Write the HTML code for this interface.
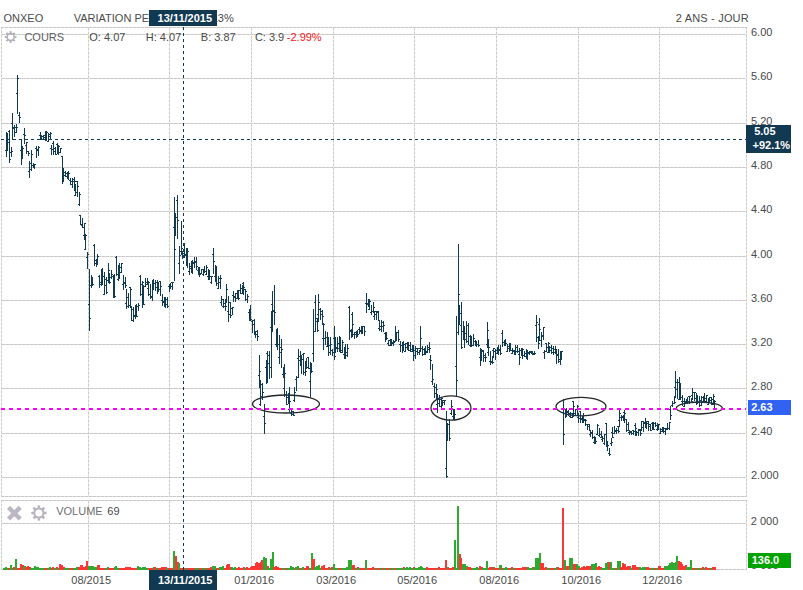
<!DOCTYPE html>
<html><head><meta charset="utf-8"><title>ONXEO</title>
<style>html,body{margin:0;padding:0;background:#fff;width:803px;height:590px;overflow:hidden}svg{display:block}</style>
</head><body>
<svg width="803" height="590" viewBox="0 0 803 590"><rect width="803" height="590" fill="#fff"/>
<g shape-rendering="crispEdges"><path d="M2 34.5H746" stroke="#f2d4ee" stroke-width="1"/><path d="M2 34.5H746" stroke="#c3cbc3" stroke-width="1" stroke-dasharray="3,1"/><path d="M2 78.5H746" stroke="#f2d4ee" stroke-width="1"/><path d="M2 78.5H746" stroke="#c3cbc3" stroke-width="1" stroke-dasharray="3,1"/><path d="M2 123.5H746" stroke="#f2d4ee" stroke-width="1"/><path d="M2 123.5H746" stroke="#c3cbc3" stroke-width="1" stroke-dasharray="3,1"/><path d="M2 167.5H746" stroke="#f2d4ee" stroke-width="1"/><path d="M2 167.5H746" stroke="#c3cbc3" stroke-width="1" stroke-dasharray="3,1"/><path d="M2 211.5H746" stroke="#f2d4ee" stroke-width="1"/><path d="M2 211.5H746" stroke="#c3cbc3" stroke-width="1" stroke-dasharray="3,1"/><path d="M2 256.5H746" stroke="#f2d4ee" stroke-width="1"/><path d="M2 256.5H746" stroke="#c3cbc3" stroke-width="1" stroke-dasharray="3,1"/><path d="M2 300.5H746" stroke="#f2d4ee" stroke-width="1"/><path d="M2 300.5H746" stroke="#c3cbc3" stroke-width="1" stroke-dasharray="3,1"/><path d="M2 344.5H746" stroke="#f2d4ee" stroke-width="1"/><path d="M2 344.5H746" stroke="#c3cbc3" stroke-width="1" stroke-dasharray="3,1"/><path d="M2 388.5H746" stroke="#f2d4ee" stroke-width="1"/><path d="M2 388.5H746" stroke="#c3cbc3" stroke-width="1" stroke-dasharray="3,1"/><path d="M2 433.5H746" stroke="#f2d4ee" stroke-width="1"/><path d="M2 433.5H746" stroke="#c3cbc3" stroke-width="1" stroke-dasharray="3,1"/><path d="M2 477.5H746" stroke="#f2d4ee" stroke-width="1"/><path d="M2 477.5H746" stroke="#c3cbc3" stroke-width="1" stroke-dasharray="3,1"/><path d="M88.5 28V496" stroke="#e9e6d4" stroke-width="1"/><path d="M88.5 28V496" stroke="#c4ccd0" stroke-width="1" stroke-dasharray="2,2"/><path d="M169.5 28V496" stroke="#e9e6d4" stroke-width="1"/><path d="M169.5 28V496" stroke="#c4ccd0" stroke-width="1" stroke-dasharray="2,2"/><path d="M251.5 28V496" stroke="#e9e6d4" stroke-width="1"/><path d="M251.5 28V496" stroke="#c4ccd0" stroke-width="1" stroke-dasharray="2,2"/><path d="M333.5 28V496" stroke="#e9e6d4" stroke-width="1"/><path d="M333.5 28V496" stroke="#c4ccd0" stroke-width="1" stroke-dasharray="2,2"/><path d="M414.5 28V496" stroke="#e9e6d4" stroke-width="1"/><path d="M414.5 28V496" stroke="#c4ccd0" stroke-width="1" stroke-dasharray="2,2"/><path d="M496.5 28V496" stroke="#e9e6d4" stroke-width="1"/><path d="M496.5 28V496" stroke="#c4ccd0" stroke-width="1" stroke-dasharray="2,2"/><path d="M578.5 28V496" stroke="#e9e6d4" stroke-width="1"/><path d="M578.5 28V496" stroke="#c4ccd0" stroke-width="1" stroke-dasharray="2,2"/><path d="M659.5 28V496" stroke="#e9e6d4" stroke-width="1"/><path d="M659.5 28V496" stroke="#c4ccd0" stroke-width="1" stroke-dasharray="2,2"/><path d="M1 27.5H747" stroke="#f2d4ee" stroke-width="1"/><path d="M1 27.5H747" stroke="#c3cbc3" stroke-width="1" stroke-dasharray="3,1"/><path d="M1 496.5H747" stroke="#f2d4ee" stroke-width="1"/><path d="M1 496.5H747" stroke="#c3cbc3" stroke-width="1" stroke-dasharray="3,1"/><path d="M1.5 27V497" stroke="#e9e6d4" stroke-width="1"/><path d="M1.5 27V497" stroke="#c4ccd0" stroke-width="1" stroke-dasharray="2,2"/><path d="M746.5 27V497" stroke="#e9e6d4" stroke-width="1"/><path d="M746.5 27V497" stroke="#c4ccd0" stroke-width="1" stroke-dasharray="2,2"/><path d="M1 500.5H747" stroke="#f2d4ee" stroke-width="1"/><path d="M1 500.5H747" stroke="#c3cbc3" stroke-width="1" stroke-dasharray="3,1"/><path d="M1 569.5H747" stroke="#f2d4ee" stroke-width="1"/><path d="M1 569.5H747" stroke="#c3cbc3" stroke-width="1" stroke-dasharray="3,1"/><path d="M2 523.5H746" stroke="#f2d4ee" stroke-width="1"/><path d="M2 523.5H746" stroke="#c3cbc3" stroke-width="1" stroke-dasharray="3,1"/><path d="M1.5 500V570" stroke="#e9e6d4" stroke-width="1"/><path d="M1.5 500V570" stroke="#c4ccd0" stroke-width="1" stroke-dasharray="2,2"/><path d="M746.5 500V570" stroke="#e9e6d4" stroke-width="1"/><path d="M746.5 500V570" stroke="#c4ccd0" stroke-width="1" stroke-dasharray="2,2"/><path d="M88.5 501V569" stroke="#e9e6d4" stroke-width="1"/><path d="M88.5 501V569" stroke="#c4ccd0" stroke-width="1" stroke-dasharray="2,2"/><path d="M169.5 501V569" stroke="#e9e6d4" stroke-width="1"/><path d="M169.5 501V569" stroke="#c4ccd0" stroke-width="1" stroke-dasharray="2,2"/><path d="M251.5 501V569" stroke="#e9e6d4" stroke-width="1"/><path d="M251.5 501V569" stroke="#c4ccd0" stroke-width="1" stroke-dasharray="2,2"/><path d="M333.5 501V569" stroke="#e9e6d4" stroke-width="1"/><path d="M333.5 501V569" stroke="#c4ccd0" stroke-width="1" stroke-dasharray="2,2"/><path d="M414.5 501V569" stroke="#e9e6d4" stroke-width="1"/><path d="M414.5 501V569" stroke="#c4ccd0" stroke-width="1" stroke-dasharray="2,2"/><path d="M496.5 501V569" stroke="#e9e6d4" stroke-width="1"/><path d="M496.5 501V569" stroke="#c4ccd0" stroke-width="1" stroke-dasharray="2,2"/><path d="M578.5 501V569" stroke="#e9e6d4" stroke-width="1"/><path d="M578.5 501V569" stroke="#c4ccd0" stroke-width="1" stroke-dasharray="2,2"/><path d="M659.5 501V569" stroke="#e9e6d4" stroke-width="1"/><path d="M659.5 501V569" stroke="#c4ccd0" stroke-width="1" stroke-dasharray="2,2"/></g>
<g fill="none" stroke="#262626" stroke-width="1.3"><ellipse cx="286" cy="404" rx="33.5" ry="9"/><ellipse cx="451" cy="408" rx="20" ry="12.2"/><ellipse cx="581" cy="406.6" rx="25" ry="9.3"/><ellipse cx="699.3" cy="408" rx="23" ry="6"/></g>
<path d="M1 139.5H746" stroke="#103a52" stroke-width="1" stroke-dasharray="3,3" shape-rendering="crispEdges"/>
<path d="M6.5 132V157M5 150.5h1M7 139.5h1M7.5 133V151M6 134.5h1M8 142.5h1M9.5 130V163M8 131.5h1M10 159.5h1M11.5 147V157M10 152.5h1M12 151.5h1M12.5 113V140M11 123.5h1M13 128.5h1M14.5 125V137M13 127.5h1M15 132.5h1M16.5 124V133M15 127.5h1M17 127.5h1M17.5 75V114M16 93.5h1M18 78.5h1M19.5 112V123M18 115.5h1M20 117.5h1M21.5 139V165M20 150.5h1M22 154.5h1M22.5 146V159M21 146.5h1M23 148.5h1M24.5 128V144M23 134.5h1M25 135.5h1M26.5 142V154M25 145.5h1M27 142.5h1M28.5 151V156M27 151.5h1M29 153.5h1M29.5 161V178M28 171.5h1M30 169.5h1M31.5 150V171M30 163.5h1M32 154.5h1M33.5 163V168M32 165.5h1M34 166.5h1M34.5 164V169M33 167.5h1M35 164.5h1M36.5 146V158M35 148.5h1M37 149.5h1M38.5 146V156M37 150.5h1M39 147.5h1M40.5 132V140M39 135.5h1M41 136.5h1M41.5 135V140M40 136.5h1M42 136.5h1M43.5 135V140M42 139.5h1M44 137.5h1M45.5 131V141M44 135.5h1M46 136.5h1M46.5 131V141M45 139.5h1M47 132.5h1M48.5 133V142M47 141.5h1M49 136.5h1M50.5 132V139M49 134.5h1M51 133.5h1M51.5 145V155M50 148.5h1M52 149.5h1M53.5 141V155M52 143.5h1M54 151.5h1M55.5 147V155M54 148.5h1M56 154.5h1M57.5 143V154M56 144.5h1M58 150.5h1M58.5 145V155M57 153.5h1M59 146.5h1M60.5 148V153M59 152.5h1M61 148.5h1M62.5 156V184M61 156.5h1M63 175.5h1M63.5 168V182M62 177.5h1M64 172.5h1M65.5 171V177M64 175.5h1M66 173.5h1M67.5 173V179M66 176.5h1M68 177.5h1M68.5 171V180M67 172.5h1M69 173.5h1M70.5 178V185M69 180.5h1M71 184.5h1M72.5 178V188M71 181.5h1M73 181.5h1M74.5 177V191M73 179.5h1M75 181.5h1M75.5 184V196M74 195.5h1M76 192.5h1M77.5 181V197M76 181.5h1M78 186.5h1M79.5 192V206M78 204.5h1M80 194.5h1M80.5 215V225M79 215.5h1M81 224.5h1M82.5 218V228M81 225.5h1M83 227.5h1M84.5 223V240M83 235.5h1M85 223.5h1M85.5 234V250M84 249.5h1M86 235.5h1M87.5 252V269M86 257.5h1M88 254.5h1M89.5 269V331M88 304.5h1M90 318.5h1M91.5 275V288M90 285.5h1M92 280.5h1M92.5 277V286M91 282.5h1M93 284.5h1M94.5 244V266M93 245.5h1M95 260.5h1M96.5 259V267M95 263.5h1M97 261.5h1M97.5 254V265M96 263.5h1M98 256.5h1M99.5 275V288M98 276.5h1M100 284.5h1M101.5 269V286M100 282.5h1M102 276.5h1M102.5 268V285M101 282.5h1M103 276.5h1M104.5 272V295M103 294.5h1M105 279.5h1M106.5 277V294M105 285.5h1M107 292.5h1M108.5 263V283M107 280.5h1M109 270.5h1M109.5 273V284M108 282.5h1M110 282.5h1M111.5 270V279M110 277.5h1M112 274.5h1M113.5 275V298M112 276.5h1M114 281.5h1M114.5 274V298M113 293.5h1M115 296.5h1M116.5 256V276M115 257.5h1M117 274.5h1M118.5 265V281M117 279.5h1M119 270.5h1M119.5 263V279M118 273.5h1M120 267.5h1M121.5 263V273M120 272.5h1M122 263.5h1M123.5 275V290M122 284.5h1M124 282.5h1M125.5 277V288M124 283.5h1M126 285.5h1M126.5 289V309M125 303.5h1M127 297.5h1M128.5 293V308M127 306.5h1M129 305.5h1M130.5 287V308M129 287.5h1M131 289.5h1M131.5 306V321M130 307.5h1M132 320.5h1M133.5 307V322M132 309.5h1M134 316.5h1M135.5 305V319M134 315.5h1M136 313.5h1M136.5 304V317M135 313.5h1M137 316.5h1M138.5 303V311M137 306.5h1M139 305.5h1M140.5 275V296M139 276.5h1M141 284.5h1M142.5 281V308M141 294.5h1M143 282.5h1M143.5 285V305M142 295.5h1M144 304.5h1M145.5 278V287M144 286.5h1M146 282.5h1M147.5 278V285M146 284.5h1M148 282.5h1M148.5 281V296M147 288.5h1M149 282.5h1M150.5 284V299M149 294.5h1M151 297.5h1M152.5 280V301M151 296.5h1M153 285.5h1M153.5 279V290M152 285.5h1M154 283.5h1M155.5 280V291M154 283.5h1M156 282.5h1M157.5 280V294M156 287.5h1M158 291.5h1M158.5 282V292M157 291.5h1M159 289.5h1M160.5 281V296M159 281.5h1M161 286.5h1M162.5 294V306M161 300.5h1M163 301.5h1M164.5 297V307M163 302.5h1M165 300.5h1M165.5 297V308M164 297.5h1M166 299.5h1M167.5 297V308M166 304.5h1M168 306.5h1M169.5 284V292M168 286.5h1M170 286.5h1M170.5 283V289M169 288.5h1M171 286.5h1M172.5 282V290M171 282.5h1M173 282.5h1M174.5 197V281M173 227.5h1M175 249.5h1M175.5 213V236M174 229.5h1M176 217.5h1M177.5 195V239M176 200.5h1M178 220.5h1M179.5 246V274M178 263.5h1M180 255.5h1M181.5 221V255M180 251.5h1M182 248.5h1M182.5 251V259M181 252.5h1M183 251.5h1M184.5 243V258M183 253.5h1M185 254.5h1M186.5 248V266M185 255.5h1M187 257.5h1M187.5 248V268M186 256.5h1M188 251.5h1M189.5 263V275M188 271.5h1M190 266.5h1M191.5 262V273M190 268.5h1M192 269.5h1M192.5 260V274M191 261.5h1M193 263.5h1M194.5 257V268M193 262.5h1M195 261.5h1M196.5 257V270M195 262.5h1M197 266.5h1M198.5 267V275M197 270.5h1M199 267.5h1M199.5 268V277M198 270.5h1M200 274.5h1M201.5 269V274M200 273.5h1M202 269.5h1M203.5 269V276M202 274.5h1M204 271.5h1M204.5 266V273M203 270.5h1M205 271.5h1M206.5 265V275M205 274.5h1M207 267.5h1M208.5 269V280M207 276.5h1M209 275.5h1M209.5 270V280M208 273.5h1M210 276.5h1M211.5 276V284M210 282.5h1M212 276.5h1M213.5 248V274M212 254.5h1M214 261.5h1M215.5 265V282M214 276.5h1M216 272.5h1M216.5 266V286M215 271.5h1M217 283.5h1M218.5 276V289M217 288.5h1M219 278.5h1M220.5 275V289M219 282.5h1M221 278.5h1M221.5 296V306M220 302.5h1M222 299.5h1M223.5 299V308M222 306.5h1M224 303.5h1M225.5 299V311M224 306.5h1M226 306.5h1M226.5 284V303M225 299.5h1M227 289.5h1M228.5 296V322M227 311.5h1M229 302.5h1M230.5 302V318M229 314.5h1M231 315.5h1M232.5 307V315M231 308.5h1M233 307.5h1M233.5 291V302M232 295.5h1M234 296.5h1M235.5 293V302M234 297.5h1M236 293.5h1M237.5 290V299M236 298.5h1M238 292.5h1M238.5 290V300M237 294.5h1M239 298.5h1M240.5 284V294M239 290.5h1M241 293.5h1M242.5 285V294M241 288.5h1M243 289.5h1M243.5 282V295M242 283.5h1M244 287.5h1M245.5 289V301M244 289.5h1M246 291.5h1M247.5 294V303M246 299.5h1M248 296.5h1M249.5 309V321M248 312.5h1M250 320.5h1M250.5 305V320M249 318.5h1M251 319.5h1M252.5 320V333M251 321.5h1M253 320.5h1M254.5 319V334M253 324.5h1M255 332.5h1M255.5 331V338M254 334.5h1M256 334.5h1M257.5 330V341M256 331.5h1M258 336.5h1M259.5 355V388M258 375.5h1M260 371.5h1M260.5 380V406M259 404.5h1M261 396.5h1M262.5 383V400M261 384.5h1M263 392.5h1M264.5 404V434M263 416.5h1M265 423.5h1M266.5 360V384M265 367.5h1M267 375.5h1M267.5 351V383M266 353.5h1M268 363.5h1M269.5 351V379M268 355.5h1M270 367.5h1M271.5 311V378M270 327.5h1M272 315.5h1M272.5 291V332M271 304.5h1M273 310.5h1M274.5 285V325M273 311.5h1M275 312.5h1M276.5 329V347M275 344.5h1M277 346.5h1M277.5 328V350M276 332.5h1M278 344.5h1M279.5 335V364M278 357.5h1M280 352.5h1M281.5 339V368M280 347.5h1M282 349.5h1M283.5 367V378M282 374.5h1M284 377.5h1M284.5 364V397M283 388.5h1M285 373.5h1M286.5 391V405M285 394.5h1M287 404.5h1M288.5 393V404M287 397.5h1M289 401.5h1M289.5 387V413M288 409.5h1M290 401.5h1M291.5 410V416M290 413.5h1M292 411.5h1M293.5 411V416M292 414.5h1M294 415.5h1M294.5 387V402M293 400.5h1M295 392.5h1M296.5 376V391M295 379.5h1M297 377.5h1M298.5 349V378M297 358.5h1M299 360.5h1M300.5 351V366M299 356.5h1M301 360.5h1M301.5 355V374M300 361.5h1M302 359.5h1M303.5 353V375M302 354.5h1M304 353.5h1M305.5 361V376M304 372.5h1M306 371.5h1M306.5 358V369M305 365.5h1M307 367.5h1M308.5 357V369M307 357.5h1M309 368.5h1M310.5 362V397M309 381.5h1M311 366.5h1M311.5 363V373M310 366.5h1M312 371.5h1M313.5 309V362M312 353.5h1M314 331.5h1M315.5 295V332M314 302.5h1M316 318.5h1M317.5 318V332M316 321.5h1M318 330.5h1M318.5 294V322M317 314.5h1M319 302.5h1M320.5 308V320M319 309.5h1M321 314.5h1M322.5 310V325M321 311.5h1M323 316.5h1M323.5 323V350M322 338.5h1M324 324.5h1M325.5 331V345M324 338.5h1M326 337.5h1M327.5 332V347M326 346.5h1M328 337.5h1M328.5 337V356M327 346.5h1M329 352.5h1M330.5 337V355M329 345.5h1M331 344.5h1M332.5 349V356M331 350.5h1M333 352.5h1M334.5 326V360M333 338.5h1M335 356.5h1M335.5 337V353M334 342.5h1M336 348.5h1M337.5 337V352M336 347.5h1M338 348.5h1M339.5 336V352M338 343.5h1M340 338.5h1M340.5 337V353M339 347.5h1M341 350.5h1M342.5 340V353M341 352.5h1M343 342.5h1M344.5 347V359M343 354.5h1M345 356.5h1M345.5 344V359M344 348.5h1M346 355.5h1M347.5 344V357M346 352.5h1M348 348.5h1M349.5 306V340M348 307.5h1M350 331.5h1M351.5 329V338M350 330.5h1M352 334.5h1M352.5 312V337M351 314.5h1M353 324.5h1M354.5 332V339M353 334.5h1M355 332.5h1M356.5 331V338M355 334.5h1M357 334.5h1M357.5 330V337M356 336.5h1M358 334.5h1M359.5 327V334M358 329.5h1M360 330.5h1M361.5 326V334M360 331.5h1M362 330.5h1M362.5 326V334M361 327.5h1M363 326.5h1M364.5 326V336M363 326.5h1M365 331.5h1M366.5 293V313M365 303.5h1M367 304.5h1M368.5 299V307M367 303.5h1M369 303.5h1M369.5 299V310M368 309.5h1M370 301.5h1M371.5 305V315M370 312.5h1M372 311.5h1M373.5 302V313M372 311.5h1M374 307.5h1M374.5 311V320M373 316.5h1M375 311.5h1M376.5 311V320M375 314.5h1M377 312.5h1M378.5 311V321M377 311.5h1M379 320.5h1M379.5 320V331M378 328.5h1M380 326.5h1M381.5 320V332M380 329.5h1M382 326.5h1M383.5 321V332M382 322.5h1M384 325.5h1M385.5 332V342M384 333.5h1M386 339.5h1M386.5 332V340M385 339.5h1M387 338.5h1M388.5 340V346M387 343.5h1M389 340.5h1M390.5 339V346M389 345.5h1M391 340.5h1M391.5 339V346M390 344.5h1M392 343.5h1M393.5 340V346M392 342.5h1M394 342.5h1M395.5 326V342M394 341.5h1M396 337.5h1M396.5 332V341M395 339.5h1M397 332.5h1M398.5 330V342M397 332.5h1M399 339.5h1M400.5 341V352M399 344.5h1M401 345.5h1M402.5 342V353M401 345.5h1M403 346.5h1M403.5 341V351M402 344.5h1M404 344.5h1M405.5 343V352M404 351.5h1M406 343.5h1M407.5 343V350M406 347.5h1M408 346.5h1M408.5 342V351M407 342.5h1M409 345.5h1M410.5 342V352M409 350.5h1M411 349.5h1M412.5 345V352M411 351.5h1M413 350.5h1M413.5 345V361M412 347.5h1M414 355.5h1M415.5 346V359M414 350.5h1M416 351.5h1M417.5 348V355M416 348.5h1M418 348.5h1M419.5 350V355M418 352.5h1M420 351.5h1M420.5 326V352M419 348.5h1M421 338.5h1M422.5 346V356M421 348.5h1M423 349.5h1M424.5 348V355M423 354.5h1M425 349.5h1M425.5 346V355M424 348.5h1M426 351.5h1M427.5 345V353M426 352.5h1M428 349.5h1M429.5 342V353M428 347.5h1M430 348.5h1M430.5 355V370M429 359.5h1M431 360.5h1M432.5 364V385M431 381.5h1M433 379.5h1M434.5 383V398M433 386.5h1M435 393.5h1M436.5 384V399M435 387.5h1M437 389.5h1M437.5 394V413M436 404.5h1M438 399.5h1M439.5 395V407M438 403.5h1M440 406.5h1M441.5 397V408M440 399.5h1M442 398.5h1M442.5 400V406M441 400.5h1M443 400.5h1M444.5 400V405M443 402.5h1M445 400.5h1M446.5 411V478M445 468.5h1M447 476.5h1M447.5 423V441M446 438.5h1M448 424.5h1M449.5 419V441M448 424.5h1M450 438.5h1M451.5 400V415M450 413.5h1M452 406.5h1M453.5 409V420M452 416.5h1M454 409.5h1M454.5 410V420M453 415.5h1M455 414.5h1M456.5 316V397M455 366.5h1M457 380.5h1M458.5 244V335M457 332.5h1M459 294.5h1M459.5 305V325M458 313.5h1M460 313.5h1M461.5 302V349M460 325.5h1M462 347.5h1M463.5 321V340M462 331.5h1M464 326.5h1M464.5 327V348M463 337.5h1M465 333.5h1M466.5 321V343M465 339.5h1M467 325.5h1M468.5 323V345M467 341.5h1M469 336.5h1M470.5 335V347M469 345.5h1M471 346.5h1M471.5 336V347M470 338.5h1M472 345.5h1M473.5 334V346M472 345.5h1M474 338.5h1M475.5 340V346M474 341.5h1M476 341.5h1M476.5 341V347M475 342.5h1M477 344.5h1M478.5 340V347M477 344.5h1M479 345.5h1M480.5 348V366M479 357.5h1M481 355.5h1M481.5 349V361M480 359.5h1M482 351.5h1M483.5 350V362M482 350.5h1M484 357.5h1M485.5 353V362M484 355.5h1M486 357.5h1M487.5 322V348M486 344.5h1M488 330.5h1M488.5 339V356M487 352.5h1M489 347.5h1M490.5 351V365M489 361.5h1M491 361.5h1M492.5 356V364M491 362.5h1M493 362.5h1M493.5 348V358M492 350.5h1M494 348.5h1M495.5 349V360M494 351.5h1M496 350.5h1M497.5 347V354M496 353.5h1M498 347.5h1M498.5 345V355M497 348.5h1M499 349.5h1M500.5 345V355M499 350.5h1M501 353.5h1M502.5 330V347M501 333.5h1M503 342.5h1M504.5 340V346M503 342.5h1M505 340.5h1M505.5 339V346M504 345.5h1M506 343.5h1M507.5 344V352M506 351.5h1M508 346.5h1M509.5 343V352M508 348.5h1M510 344.5h1M510.5 343V351M509 347.5h1M511 350.5h1M512.5 348V354M511 353.5h1M513 350.5h1M514.5 350V354M513 351.5h1M515 353.5h1M515.5 345V355M514 354.5h1M516 351.5h1M517.5 345V353M516 347.5h1M518 351.5h1M519.5 348V365M518 354.5h1M520 357.5h1M521.5 348V356M520 350.5h1M522 355.5h1M522.5 348V359M521 350.5h1M523 349.5h1M524.5 351V357M523 355.5h1M525 353.5h1M526.5 349V359M525 356.5h1M527 355.5h1M527.5 350V360M526 351.5h1M528 352.5h1M529.5 351V355M528 353.5h1M530 351.5h1M531.5 351V354M530 352.5h1M532 353.5h1M532.5 351V355M531 352.5h1M533 353.5h1M534.5 351V355M533 354.5h1M535 353.5h1M536.5 315V342M535 325.5h1M537 322.5h1M538.5 336V349M537 337.5h1M539 343.5h1M539.5 318V341M538 324.5h1M540 329.5h1M541.5 332V347M540 340.5h1M542 336.5h1M543.5 327V340M542 335.5h1M544 327.5h1M544.5 350V359M543 352.5h1M545 351.5h1M546.5 343V352M545 343.5h1M547 347.5h1M548.5 342V353M547 352.5h1M549 343.5h1M549.5 346V353M548 346.5h1M550 347.5h1M551.5 345V354M550 350.5h1M552 352.5h1M553.5 346V355M552 348.5h1M554 349.5h1M555.5 346V354M554 352.5h1M556 353.5h1M556.5 349V364M555 349.5h1M557 355.5h1M558.5 349V363M557 354.5h1M559 361.5h1M560.5 351V365M559 359.5h1M561 357.5h1M561.5 351V360M560 359.5h1M562 351.5h1M563.5 399V445M562 412.5h1M564 434.5h1M565.5 409V418M564 413.5h1M566 413.5h1M566.5 408V417M565 411.5h1M567 412.5h1M568.5 410V416M567 411.5h1M569 413.5h1M570.5 412V418M569 416.5h1M571 417.5h1M572.5 413V418M571 413.5h1M573 414.5h1M573.5 401V417M572 401.5h1M574 406.5h1M575.5 409V416M574 413.5h1M576 409.5h1M577.5 405V416M576 415.5h1M578 406.5h1M578.5 413V423M577 417.5h1M579 418.5h1M580.5 411V423M579 411.5h1M581 419.5h1M582.5 416V423M581 418.5h1M583 416.5h1M583.5 413V423M582 421.5h1M584 420.5h1M585.5 419V426M584 419.5h1M586 420.5h1M587.5 424V430M586 424.5h1M588 426.5h1M589.5 424V431M588 424.5h1M590 430.5h1M590.5 430V437M589 434.5h1M591 432.5h1M592.5 430V439M591 433.5h1M593 437.5h1M594.5 436V444M593 442.5h1M595 440.5h1M595.5 437V444M594 443.5h1M596 441.5h1M597.5 424V435M596 434.5h1M598 425.5h1M599.5 428V437M598 435.5h1M600 434.5h1M601.5 431V438M600 437.5h1M602 436.5h1M602.5 436V442M601 439.5h1M603 438.5h1M604.5 434V445M603 443.5h1M605 434.5h1M606.5 423V447M605 423.5h1M607 441.5h1M607.5 442V451M606 444.5h1M608 445.5h1M609.5 448V456M608 453.5h1M610 454.5h1M611.5 438V446M610 443.5h1M612 442.5h1M612.5 427V438M611 432.5h1M613 437.5h1M614.5 426V434M613 433.5h1M615 431.5h1M616.5 428V434M615 430.5h1M617 430.5h1M618.5 426V433M617 426.5h1M619 431.5h1M619.5 410V427M618 420.5h1M620 413.5h1M621.5 415V421M620 417.5h1M622 417.5h1M623.5 415V421M622 416.5h1M624 420.5h1M624.5 410V423M623 412.5h1M625 413.5h1M626.5 419V432M625 419.5h1M627 430.5h1M628.5 422V431M627 424.5h1M629 430.5h1M629.5 430V435M628 432.5h1M630 431.5h1M631.5 431V435M630 432.5h1M632 433.5h1M633.5 430V435M632 430.5h1M634 431.5h1M635.5 423V436M634 425.5h1M636 428.5h1M636.5 431V436M635 433.5h1M637 432.5h1M638.5 429V436M637 432.5h1M639 429.5h1M640.5 430V436M639 430.5h1M641 433.5h1M641.5 421V431M640 429.5h1M642 421.5h1M643.5 421V432M642 427.5h1M644 422.5h1M645.5 418V428M644 423.5h1M646 426.5h1M646.5 421V429M645 424.5h1M647 421.5h1M648.5 421V431M647 423.5h1M649 426.5h1M650.5 424V431M649 424.5h1M651 430.5h1M652.5 422V430M651 423.5h1M653 427.5h1M653.5 422V430M652 428.5h1M654 429.5h1M655.5 422V427M654 423.5h1M656 425.5h1M657.5 423V431M656 429.5h1M658 425.5h1M658.5 424V430M657 426.5h1M659 424.5h1M660.5 428V434M659 433.5h1M661 431.5h1M662.5 427V432M661 429.5h1M663 428.5h1M663.5 427V433M662 429.5h1M664 431.5h1M665.5 428V435M664 428.5h1M666 429.5h1M667.5 423V430M666 428.5h1M668 428.5h1M669.5 422V430M668 428.5h1M670 422.5h1M670.5 406V420M669 409.5h1M671 415.5h1M672.5 401V407M671 405.5h1M673 403.5h1M674.5 396V404M673 403.5h1M675 402.5h1M675.5 371V398M674 387.5h1M676 389.5h1M677.5 379V399M676 382.5h1M678 382.5h1M679.5 377V400M678 399.5h1M680 391.5h1M680.5 383V400M679 396.5h1M681 397.5h1M682.5 395V406M681 401.5h1M683 401.5h1M684.5 398V407M683 406.5h1M685 401.5h1M686.5 399V404M685 402.5h1M687 403.5h1M687.5 397V404M686 401.5h1M688 401.5h1M689.5 396V404M688 396.5h1M690 396.5h1M691.5 398V403M690 402.5h1M692 401.5h1M692.5 388V400M691 395.5h1M693 392.5h1M694.5 392V401M693 392.5h1M695 392.5h1M696.5 393V405M695 398.5h1M697 395.5h1M697.5 395V404M696 403.5h1M698 402.5h1M699.5 396V407M698 401.5h1M700 400.5h1M701.5 396V406M700 405.5h1M702 401.5h1M703.5 396V403M702 397.5h1M704 401.5h1M704.5 393V403M703 400.5h1M705 401.5h1M706.5 395V402M705 398.5h1M707 395.5h1M708.5 398V405M707 404.5h1M709 399.5h1M709.5 397V403M708 400.5h1M710 397.5h1M711.5 397V405M710 400.5h1M712 399.5h1M713.5 394V405M712 404.5h1M714 396.5h1M714.5 400V409M713 401.5h1M715 401.5h1" stroke="#103a52" stroke-width="1" fill="none" shape-rendering="crispEdges"/>
<path d="M1 409H746" stroke="#ff00ff" stroke-width="2" stroke-dasharray="4,4" shape-rendering="crispEdges"/>
<g shape-rendering="crispEdges"><rect x="3.00" y="567.6" width="2.1" height="2.0" fill="#2fa92f"/>
<rect x="4.70" y="566.7" width="2.1" height="2.9" fill="#2fa92f"/>
<rect x="6.40" y="567.9" width="2.1" height="1.7" fill="#2fa92f"/>
<rect x="8.10" y="567.5" width="2.1" height="2.1" fill="#ff3535"/>
<rect x="9.80" y="564.6" width="2.1" height="5.0" fill="#2fa92f"/>
<rect x="11.50" y="568.0" width="2.1" height="1.6" fill="#2fa92f"/>
<rect x="13.20" y="566.7" width="2.1" height="2.9" fill="#ff3535"/>
<rect x="14.90" y="559.4" width="2.1" height="10.2" fill="#2fa92f"/>
<rect x="16.60" y="568.0" width="2.1" height="1.6" fill="#ff3535"/>
<rect x="18.30" y="567.6" width="2.1" height="2.0" fill="#ff3535"/>
<rect x="20.00" y="563.8" width="2.1" height="5.8" fill="#ff3535"/>
<rect x="21.70" y="564.5" width="2.1" height="5.1" fill="#ff3535"/>
<rect x="23.40" y="566.1" width="2.1" height="3.5" fill="#2fa92f"/>
<rect x="25.10" y="567.1" width="2.1" height="2.5" fill="#ff3535"/>
<rect x="26.80" y="565.8" width="2.1" height="3.8" fill="#ff3535"/>
<rect x="28.50" y="566.6" width="2.1" height="3.0" fill="#ff3535"/>
<rect x="30.20" y="568.0" width="2.1" height="1.6" fill="#2fa92f"/>
<rect x="31.90" y="568.0" width="2.1" height="1.6" fill="#2fa92f"/>
<rect x="33.60" y="566.2" width="2.1" height="3.4" fill="#2fa92f"/>
<rect x="35.30" y="566.8" width="2.1" height="2.8" fill="#2fa92f"/>
<rect x="37.00" y="566.6" width="2.1" height="3.0" fill="#2fa92f"/>
<rect x="38.70" y="567.6" width="2.1" height="2.0" fill="#2fa92f"/>
<rect x="40.40" y="567.7" width="2.1" height="1.9" fill="#2fa92f"/>
<rect x="42.10" y="567.5" width="2.1" height="2.1" fill="#2fa92f"/>
<rect x="43.80" y="568.0" width="2.1" height="1.6" fill="#ff3535"/>
<rect x="45.50" y="568.0" width="2.1" height="1.6" fill="#ff3535"/>
<rect x="47.20" y="568.0" width="2.1" height="1.6" fill="#2fa92f"/>
<rect x="48.90" y="567.4" width="2.1" height="2.2" fill="#2fa92f"/>
<rect x="50.60" y="568.0" width="2.1" height="1.6" fill="#ff3535"/>
<rect x="52.30" y="566.9" width="2.1" height="2.7" fill="#ff3535"/>
<rect x="54.00" y="568.0" width="2.1" height="1.6" fill="#2fa92f"/>
<rect x="55.70" y="567.3" width="2.1" height="2.3" fill="#ff3535"/>
<rect x="57.40" y="567.7" width="2.1" height="1.9" fill="#2fa92f"/>
<rect x="59.10" y="564.0" width="2.1" height="5.6" fill="#ff3535"/>
<rect x="60.80" y="564.6" width="2.1" height="5.0" fill="#ff3535"/>
<rect x="62.50" y="567.4" width="2.1" height="2.2" fill="#ff3535"/>
<rect x="64.20" y="568.0" width="2.1" height="1.6" fill="#2fa92f"/>
<rect x="65.90" y="568.0" width="2.1" height="1.6" fill="#2fa92f"/>
<rect x="67.60" y="568.0" width="2.1" height="1.6" fill="#2fa92f"/>
<rect x="69.30" y="568.0" width="2.1" height="1.6" fill="#ff3535"/>
<rect x="71.00" y="568.0" width="2.1" height="1.6" fill="#ff3535"/>
<rect x="72.70" y="568.0" width="2.1" height="1.6" fill="#2fa92f"/>
<rect x="74.40" y="568.0" width="2.1" height="1.6" fill="#2fa92f"/>
<rect x="76.10" y="567.0" width="2.1" height="2.6" fill="#2fa92f"/>
<rect x="77.80" y="567.3" width="2.1" height="2.3" fill="#ff3535"/>
<rect x="79.50" y="564.9" width="2.1" height="4.7" fill="#ff3535"/>
<rect x="81.20" y="564.7" width="2.1" height="4.9" fill="#ff3535"/>
<rect x="82.90" y="566.9" width="2.1" height="2.7" fill="#ff3535"/>
<rect x="84.60" y="566.4" width="2.1" height="3.2" fill="#ff3535"/>
<rect x="86.30" y="561.2" width="2.1" height="8.4" fill="#ff3535"/>
<rect x="88.00" y="565.9" width="2.1" height="3.7" fill="#2fa92f"/>
<rect x="89.70" y="565.9" width="2.1" height="3.7" fill="#2fa92f"/>
<rect x="91.40" y="566.0" width="2.1" height="3.6" fill="#2fa92f"/>
<rect x="93.10" y="566.6" width="2.1" height="3.0" fill="#2fa92f"/>
<rect x="94.80" y="567.0" width="2.1" height="2.6" fill="#2fa92f"/>
<rect x="96.50" y="564.8" width="2.1" height="4.8" fill="#ff3535"/>
<rect x="98.20" y="564.6" width="2.1" height="5.0" fill="#ff3535"/>
<rect x="99.90" y="567.6" width="2.1" height="2.0" fill="#ff3535"/>
<rect x="101.60" y="567.5" width="2.1" height="2.1" fill="#ff3535"/>
<rect x="103.30" y="568.0" width="2.1" height="1.6" fill="#ff3535"/>
<rect x="105.00" y="567.5" width="2.1" height="2.1" fill="#2fa92f"/>
<rect x="106.70" y="567.3" width="2.1" height="2.3" fill="#2fa92f"/>
<rect x="108.40" y="568.0" width="2.1" height="1.6" fill="#ff3535"/>
<rect x="110.10" y="568.0" width="2.1" height="1.6" fill="#ff3535"/>
<rect x="111.80" y="568.0" width="2.1" height="1.6" fill="#ff3535"/>
<rect x="113.50" y="566.7" width="2.1" height="2.9" fill="#2fa92f"/>
<rect x="115.20" y="566.4" width="2.1" height="3.2" fill="#2fa92f"/>
<rect x="116.90" y="567.5" width="2.1" height="2.1" fill="#2fa92f"/>
<rect x="118.60" y="568.0" width="2.1" height="1.6" fill="#ff3535"/>
<rect x="120.30" y="568.0" width="2.1" height="1.6" fill="#ff3535"/>
<rect x="122.00" y="568.0" width="2.1" height="1.6" fill="#ff3535"/>
<rect x="123.70" y="568.0" width="2.1" height="1.6" fill="#ff3535"/>
<rect x="125.40" y="566.5" width="2.1" height="3.1" fill="#ff3535"/>
<rect x="127.10" y="567.0" width="2.1" height="2.6" fill="#ff3535"/>
<rect x="128.80" y="566.8" width="2.1" height="2.8" fill="#ff3535"/>
<rect x="130.50" y="568.0" width="2.1" height="1.6" fill="#ff3535"/>
<rect x="132.20" y="568.0" width="2.1" height="1.6" fill="#ff3535"/>
<rect x="133.90" y="567.8" width="2.1" height="1.8" fill="#ff3535"/>
<rect x="135.60" y="567.9" width="2.1" height="1.7" fill="#ff3535"/>
<rect x="137.30" y="565.9" width="2.1" height="3.7" fill="#2fa92f"/>
<rect x="139.00" y="566.5" width="2.1" height="3.1" fill="#2fa92f"/>
<rect x="140.70" y="567.7" width="2.1" height="1.9" fill="#2fa92f"/>
<rect x="142.40" y="567.4" width="2.1" height="2.2" fill="#2fa92f"/>
<rect x="144.10" y="567.4" width="2.1" height="2.2" fill="#2fa92f"/>
<rect x="145.80" y="568.0" width="2.1" height="1.6" fill="#2fa92f"/>
<rect x="147.50" y="568.0" width="2.1" height="1.6" fill="#ff3535"/>
<rect x="149.20" y="567.7" width="2.1" height="1.9" fill="#ff3535"/>
<rect x="150.90" y="568.0" width="2.1" height="1.6" fill="#ff3535"/>
<rect x="152.60" y="567.1" width="2.1" height="2.5" fill="#2fa92f"/>
<rect x="154.30" y="566.8" width="2.1" height="2.8" fill="#ff3535"/>
<rect x="156.00" y="568.0" width="2.1" height="1.6" fill="#2fa92f"/>
<rect x="157.70" y="568.0" width="2.1" height="1.6" fill="#ff3535"/>
<rect x="159.40" y="567.9" width="2.1" height="1.7" fill="#ff3535"/>
<rect x="161.10" y="567.2" width="2.1" height="2.4" fill="#ff3535"/>
<rect x="162.80" y="567.3" width="2.1" height="2.3" fill="#ff3535"/>
<rect x="164.50" y="566.8" width="2.1" height="2.8" fill="#ff3535"/>
<rect x="166.20" y="568.0" width="2.1" height="1.6" fill="#2fa92f"/>
<rect x="167.90" y="567.9" width="2.1" height="1.7" fill="#ff3535"/>
<rect x="169.60" y="568.0" width="2.1" height="1.6" fill="#ff3535"/>
<rect x="171.30" y="567.9" width="2.1" height="1.7" fill="#ff3535"/>
<rect x="173.00" y="551.1" width="2.1" height="18.5" fill="#2fa92f"/>
<rect x="174.70" y="555.9" width="2.1" height="13.7" fill="#ff3535"/>
<rect x="176.40" y="561.6" width="2.1" height="8.0" fill="#ff3535"/>
<rect x="178.10" y="563.0" width="2.1" height="6.6" fill="#2fa92f"/>
<rect x="179.80" y="568.0" width="2.1" height="1.6" fill="#ff3535"/>
<rect x="181.50" y="568.0" width="2.1" height="1.6" fill="#ff3535"/>
<rect x="183.20" y="568.0" width="2.1" height="1.6" fill="#ff3535"/>
<rect x="184.90" y="568.0" width="2.1" height="1.6" fill="#2fa92f"/>
<rect x="186.60" y="568.0" width="2.1" height="1.6" fill="#ff3535"/>
<rect x="188.30" y="568.0" width="2.1" height="1.6" fill="#ff3535"/>
<rect x="190.00" y="568.0" width="2.1" height="1.6" fill="#ff3535"/>
<rect x="191.70" y="568.0" width="2.1" height="1.6" fill="#ff3535"/>
<rect x="193.40" y="568.0" width="2.1" height="1.6" fill="#ff3535"/>
<rect x="195.10" y="567.9" width="2.1" height="1.7" fill="#2fa92f"/>
<rect x="196.80" y="568.0" width="2.1" height="1.6" fill="#2fa92f"/>
<rect x="198.50" y="568.0" width="2.1" height="1.6" fill="#ff3535"/>
<rect x="200.20" y="568.0" width="2.1" height="1.6" fill="#ff3535"/>
<rect x="201.90" y="567.9" width="2.1" height="1.7" fill="#2fa92f"/>
<rect x="203.60" y="568.0" width="2.1" height="1.6" fill="#ff3535"/>
<rect x="205.30" y="568.0" width="2.1" height="1.6" fill="#2fa92f"/>
<rect x="207.00" y="568.0" width="2.1" height="1.6" fill="#ff3535"/>
<rect x="208.70" y="568.0" width="2.1" height="1.6" fill="#ff3535"/>
<rect x="210.40" y="567.3" width="2.1" height="2.3" fill="#ff3535"/>
<rect x="212.10" y="566.1" width="2.1" height="3.5" fill="#2fa92f"/>
<rect x="213.80" y="566.4" width="2.1" height="3.2" fill="#2fa92f"/>
<rect x="215.50" y="568.0" width="2.1" height="1.6" fill="#ff3535"/>
<rect x="217.20" y="568.0" width="2.1" height="1.6" fill="#ff3535"/>
<rect x="218.90" y="567.3" width="2.1" height="2.3" fill="#2fa92f"/>
<rect x="220.60" y="567.2" width="2.1" height="2.4" fill="#2fa92f"/>
<rect x="222.30" y="566.4" width="2.1" height="3.2" fill="#2fa92f"/>
<rect x="224.00" y="567.5" width="2.1" height="2.1" fill="#ff3535"/>
<rect x="225.70" y="564.9" width="2.1" height="4.7" fill="#ff3535"/>
<rect x="227.40" y="564.3" width="2.1" height="5.3" fill="#ff3535"/>
<rect x="229.10" y="567.1" width="2.1" height="2.5" fill="#ff3535"/>
<rect x="230.80" y="567.1" width="2.1" height="2.5" fill="#2fa92f"/>
<rect x="232.50" y="567.7" width="2.1" height="1.9" fill="#2fa92f"/>
<rect x="234.20" y="566.6" width="2.1" height="3.0" fill="#2fa92f"/>
<rect x="235.90" y="568.0" width="2.1" height="1.6" fill="#ff3535"/>
<rect x="237.60" y="567.1" width="2.1" height="2.5" fill="#ff3535"/>
<rect x="239.30" y="567.5" width="2.1" height="2.1" fill="#ff3535"/>
<rect x="241.00" y="567.5" width="2.1" height="2.1" fill="#ff3535"/>
<rect x="242.70" y="567.2" width="2.1" height="2.4" fill="#ff3535"/>
<rect x="244.40" y="568.0" width="2.1" height="1.6" fill="#2fa92f"/>
<rect x="246.10" y="567.1" width="2.1" height="2.5" fill="#ff3535"/>
<rect x="247.80" y="567.7" width="2.1" height="1.9" fill="#ff3535"/>
<rect x="249.50" y="566.9" width="2.1" height="2.7" fill="#ff3535"/>
<rect x="251.20" y="565.6" width="2.1" height="4.0" fill="#ff3535"/>
<rect x="252.90" y="565.9" width="2.1" height="3.7" fill="#ff3535"/>
<rect x="254.60" y="562.8" width="2.1" height="6.8" fill="#ff3535"/>
<rect x="256.30" y="562.4" width="2.1" height="7.2" fill="#ff3535"/>
<rect x="258.00" y="563.1" width="2.1" height="6.5" fill="#ff3535"/>
<rect x="259.70" y="561.9" width="2.1" height="7.7" fill="#ff3535"/>
<rect x="261.40" y="560.0" width="2.1" height="9.6" fill="#ff3535"/>
<rect x="263.10" y="557.3" width="2.1" height="12.3" fill="#2fa92f"/>
<rect x="264.80" y="557.6" width="2.1" height="12.0" fill="#2fa92f"/>
<rect x="266.50" y="565.6" width="2.1" height="4.0" fill="#ff3535"/>
<rect x="268.20" y="568.0" width="2.1" height="1.6" fill="#2fa92f"/>
<rect x="269.90" y="558.7" width="2.1" height="10.9" fill="#2fa92f"/>
<rect x="271.60" y="551.7" width="2.1" height="17.9" fill="#2fa92f"/>
<rect x="273.30" y="566.9" width="2.1" height="2.7" fill="#ff3535"/>
<rect x="275.00" y="566.2" width="2.1" height="3.4" fill="#ff3535"/>
<rect x="276.70" y="567.1" width="2.1" height="2.5" fill="#ff3535"/>
<rect x="278.40" y="568.0" width="2.1" height="1.6" fill="#ff3535"/>
<rect x="280.10" y="568.0" width="2.1" height="1.6" fill="#ff3535"/>
<rect x="281.80" y="568.0" width="2.1" height="1.6" fill="#2fa92f"/>
<rect x="283.50" y="567.8" width="2.1" height="1.8" fill="#2fa92f"/>
<rect x="285.20" y="567.7" width="2.1" height="1.9" fill="#ff3535"/>
<rect x="286.90" y="568.0" width="2.1" height="1.6" fill="#2fa92f"/>
<rect x="288.60" y="568.0" width="2.1" height="1.6" fill="#2fa92f"/>
<rect x="290.30" y="566.4" width="2.1" height="3.2" fill="#2fa92f"/>
<rect x="292.00" y="567.0" width="2.1" height="2.6" fill="#2fa92f"/>
<rect x="293.70" y="568.0" width="2.1" height="1.6" fill="#ff3535"/>
<rect x="295.40" y="567.1" width="2.1" height="2.5" fill="#2fa92f"/>
<rect x="297.10" y="565.7" width="2.1" height="3.9" fill="#2fa92f"/>
<rect x="298.80" y="568.0" width="2.1" height="1.6" fill="#ff3535"/>
<rect x="300.50" y="568.0" width="2.1" height="1.6" fill="#2fa92f"/>
<rect x="302.20" y="567.4" width="2.1" height="2.2" fill="#2fa92f"/>
<rect x="303.90" y="567.6" width="2.1" height="2.0" fill="#ff3535"/>
<rect x="305.60" y="566.2" width="2.1" height="3.4" fill="#ff3535"/>
<rect x="307.30" y="566.2" width="2.1" height="3.4" fill="#ff3535"/>
<rect x="309.00" y="568.0" width="2.1" height="1.6" fill="#2fa92f"/>
<rect x="310.70" y="553.3" width="2.1" height="16.3" fill="#2fa92f"/>
<rect x="312.40" y="558.8" width="2.1" height="10.8" fill="#ff3535"/>
<rect x="314.10" y="566.8" width="2.1" height="2.8" fill="#2fa92f"/>
<rect x="315.80" y="566.3" width="2.1" height="3.3" fill="#2fa92f"/>
<rect x="317.50" y="565.4" width="2.1" height="4.2" fill="#2fa92f"/>
<rect x="319.20" y="567.8" width="2.1" height="1.8" fill="#2fa92f"/>
<rect x="320.90" y="566.2" width="2.1" height="3.4" fill="#ff3535"/>
<rect x="322.60" y="565.2" width="2.1" height="4.4" fill="#ff3535"/>
<rect x="324.30" y="568.0" width="2.1" height="1.6" fill="#ff3535"/>
<rect x="326.00" y="567.5" width="2.1" height="2.1" fill="#ff3535"/>
<rect x="327.70" y="567.1" width="2.1" height="2.5" fill="#ff3535"/>
<rect x="329.40" y="567.6" width="2.1" height="2.0" fill="#2fa92f"/>
<rect x="331.10" y="566.9" width="2.1" height="2.7" fill="#ff3535"/>
<rect x="332.80" y="563.7" width="2.1" height="5.9" fill="#2fa92f"/>
<rect x="334.50" y="567.7" width="2.1" height="1.9" fill="#2fa92f"/>
<rect x="336.20" y="567.8" width="2.1" height="1.8" fill="#2fa92f"/>
<rect x="337.90" y="568.0" width="2.1" height="1.6" fill="#ff3535"/>
<rect x="339.60" y="567.8" width="2.1" height="1.8" fill="#ff3535"/>
<rect x="341.30" y="568.0" width="2.1" height="1.6" fill="#2fa92f"/>
<rect x="343.00" y="567.5" width="2.1" height="2.1" fill="#2fa92f"/>
<rect x="344.70" y="568.0" width="2.1" height="1.6" fill="#2fa92f"/>
<rect x="346.40" y="567.3" width="2.1" height="2.3" fill="#2fa92f"/>
<rect x="348.10" y="559.6" width="2.1" height="10.0" fill="#2fa92f"/>
<rect x="349.80" y="559.6" width="2.1" height="10.0" fill="#2fa92f"/>
<rect x="351.50" y="564.8" width="2.1" height="4.8" fill="#ff3535"/>
<rect x="353.20" y="564.8" width="2.1" height="4.8" fill="#ff3535"/>
<rect x="354.90" y="568.0" width="2.1" height="1.6" fill="#2fa92f"/>
<rect x="356.60" y="566.9" width="2.1" height="2.7" fill="#ff3535"/>
<rect x="358.30" y="567.7" width="2.1" height="1.9" fill="#2fa92f"/>
<rect x="360.00" y="567.8" width="2.1" height="1.8" fill="#ff3535"/>
<rect x="361.70" y="567.8" width="2.1" height="1.8" fill="#ff3535"/>
<rect x="363.40" y="567.7" width="2.1" height="1.9" fill="#ff3535"/>
<rect x="365.10" y="559.6" width="2.1" height="10.0" fill="#2fa92f"/>
<rect x="366.80" y="568.0" width="2.1" height="1.6" fill="#ff3535"/>
<rect x="368.50" y="567.9" width="2.1" height="1.7" fill="#ff3535"/>
<rect x="370.20" y="567.8" width="2.1" height="1.8" fill="#ff3535"/>
<rect x="371.90" y="567.1" width="2.1" height="2.5" fill="#ff3535"/>
<rect x="373.60" y="567.5" width="2.1" height="2.1" fill="#ff3535"/>
<rect x="375.30" y="568.0" width="2.1" height="1.6" fill="#2fa92f"/>
<rect x="377.00" y="568.0" width="2.1" height="1.6" fill="#ff3535"/>
<rect x="378.70" y="568.0" width="2.1" height="1.6" fill="#ff3535"/>
<rect x="380.40" y="568.0" width="2.1" height="1.6" fill="#2fa92f"/>
<rect x="382.10" y="568.0" width="2.1" height="1.6" fill="#ff3535"/>
<rect x="383.80" y="568.0" width="2.1" height="1.6" fill="#2fa92f"/>
<rect x="385.50" y="568.0" width="2.1" height="1.6" fill="#ff3535"/>
<rect x="387.20" y="568.0" width="2.1" height="1.6" fill="#ff3535"/>
<rect x="388.90" y="568.0" width="2.1" height="1.6" fill="#2fa92f"/>
<rect x="390.60" y="568.0" width="2.1" height="1.6" fill="#ff3535"/>
<rect x="392.30" y="568.0" width="2.1" height="1.6" fill="#2fa92f"/>
<rect x="394.00" y="568.0" width="2.1" height="1.6" fill="#ff3535"/>
<rect x="395.70" y="568.0" width="2.1" height="1.6" fill="#2fa92f"/>
<rect x="397.40" y="568.0" width="2.1" height="1.6" fill="#2fa92f"/>
<rect x="399.10" y="568.0" width="2.1" height="1.6" fill="#2fa92f"/>
<rect x="400.80" y="567.6" width="2.1" height="2.0" fill="#2fa92f"/>
<rect x="402.50" y="567.0" width="2.1" height="2.6" fill="#ff3535"/>
<rect x="404.20" y="568.0" width="2.1" height="1.6" fill="#2fa92f"/>
<rect x="405.90" y="567.1" width="2.1" height="2.5" fill="#2fa92f"/>
<rect x="407.60" y="568.0" width="2.1" height="1.6" fill="#2fa92f"/>
<rect x="409.30" y="567.4" width="2.1" height="2.2" fill="#2fa92f"/>
<rect x="411.00" y="567.5" width="2.1" height="2.1" fill="#2fa92f"/>
<rect x="412.70" y="567.4" width="2.1" height="2.2" fill="#ff3535"/>
<rect x="414.40" y="567.6" width="2.1" height="2.0" fill="#2fa92f"/>
<rect x="416.10" y="568.0" width="2.1" height="1.6" fill="#2fa92f"/>
<rect x="417.80" y="566.9" width="2.1" height="2.7" fill="#2fa92f"/>
<rect x="419.50" y="566.4" width="2.1" height="3.2" fill="#2fa92f"/>
<rect x="421.20" y="567.2" width="2.1" height="2.4" fill="#2fa92f"/>
<rect x="422.90" y="567.7" width="2.1" height="1.9" fill="#2fa92f"/>
<rect x="424.60" y="568.0" width="2.1" height="1.6" fill="#2fa92f"/>
<rect x="426.30" y="567.4" width="2.1" height="2.2" fill="#ff3535"/>
<rect x="428.00" y="567.5" width="2.1" height="2.1" fill="#ff3535"/>
<rect x="429.70" y="567.8" width="2.1" height="1.8" fill="#ff3535"/>
<rect x="431.40" y="567.7" width="2.1" height="1.9" fill="#ff3535"/>
<rect x="433.10" y="568.0" width="2.1" height="1.6" fill="#ff3535"/>
<rect x="434.80" y="568.0" width="2.1" height="1.6" fill="#ff3535"/>
<rect x="436.50" y="567.5" width="2.1" height="2.1" fill="#2fa92f"/>
<rect x="438.20" y="567.0" width="2.1" height="2.6" fill="#ff3535"/>
<rect x="439.90" y="568.0" width="2.1" height="1.6" fill="#ff3535"/>
<rect x="441.60" y="568.0" width="2.1" height="1.6" fill="#ff3535"/>
<rect x="443.30" y="567.6" width="2.1" height="2.0" fill="#ff3535"/>
<rect x="445.00" y="560.0" width="2.1" height="9.6" fill="#ff3535"/>
<rect x="446.70" y="566.9" width="2.1" height="2.7" fill="#2fa92f"/>
<rect x="448.40" y="567.8" width="2.1" height="1.8" fill="#ff3535"/>
<rect x="450.10" y="567.7" width="2.1" height="1.9" fill="#ff3535"/>
<rect x="451.80" y="567.3" width="2.1" height="2.3" fill="#ff3535"/>
<rect x="453.50" y="540.1" width="2.1" height="29.5" fill="#2fa92f"/>
<rect x="455.20" y="568.0" width="2.1" height="1.6" fill="#2fa92f"/>
<rect x="456.90" y="506.0" width="2.1" height="63.6" fill="#2fa92f"/>
<rect x="458.60" y="554.1" width="2.1" height="15.5" fill="#ff3535"/>
<rect x="460.30" y="557.6" width="2.1" height="12.0" fill="#ff3535"/>
<rect x="462.00" y="563.7" width="2.1" height="5.9" fill="#2fa92f"/>
<rect x="463.70" y="563.7" width="2.1" height="5.9" fill="#2fa92f"/>
<rect x="465.40" y="566.2" width="2.1" height="3.4" fill="#2fa92f"/>
<rect x="467.10" y="567.3" width="2.1" height="2.3" fill="#ff3535"/>
<rect x="468.80" y="566.6" width="2.1" height="3.0" fill="#ff3535"/>
<rect x="470.50" y="568.0" width="2.1" height="1.6" fill="#ff3535"/>
<rect x="472.20" y="568.0" width="2.1" height="1.6" fill="#2fa92f"/>
<rect x="473.90" y="567.9" width="2.1" height="1.7" fill="#2fa92f"/>
<rect x="475.60" y="567.0" width="2.1" height="2.6" fill="#2fa92f"/>
<rect x="477.30" y="567.8" width="2.1" height="1.8" fill="#2fa92f"/>
<rect x="479.00" y="566.1" width="2.1" height="3.5" fill="#ff3535"/>
<rect x="480.70" y="567.4" width="2.1" height="2.2" fill="#ff3535"/>
<rect x="482.40" y="567.7" width="2.1" height="1.9" fill="#2fa92f"/>
<rect x="484.10" y="568.0" width="2.1" height="1.6" fill="#2fa92f"/>
<rect x="485.80" y="560.8" width="2.1" height="8.8" fill="#2fa92f"/>
<rect x="487.50" y="567.7" width="2.1" height="1.9" fill="#ff3535"/>
<rect x="489.20" y="567.3" width="2.1" height="2.3" fill="#ff3535"/>
<rect x="490.90" y="566.9" width="2.1" height="2.7" fill="#ff3535"/>
<rect x="492.60" y="567.3" width="2.1" height="2.3" fill="#2fa92f"/>
<rect x="494.30" y="568.0" width="2.1" height="1.6" fill="#ff3535"/>
<rect x="496.00" y="568.0" width="2.1" height="1.6" fill="#ff3535"/>
<rect x="497.70" y="568.0" width="2.1" height="1.6" fill="#ff3535"/>
<rect x="499.40" y="565.3" width="2.1" height="4.3" fill="#2fa92f"/>
<rect x="501.10" y="567.7" width="2.1" height="1.9" fill="#ff3535"/>
<rect x="502.80" y="567.7" width="2.1" height="1.9" fill="#2fa92f"/>
<rect x="504.50" y="567.3" width="2.1" height="2.3" fill="#2fa92f"/>
<rect x="506.20" y="568.0" width="2.1" height="1.6" fill="#2fa92f"/>
<rect x="507.90" y="567.8" width="2.1" height="1.8" fill="#ff3535"/>
<rect x="509.60" y="567.6" width="2.1" height="2.0" fill="#2fa92f"/>
<rect x="511.30" y="567.4" width="2.1" height="2.2" fill="#ff3535"/>
<rect x="513.00" y="568.0" width="2.1" height="1.6" fill="#2fa92f"/>
<rect x="514.70" y="568.0" width="2.1" height="1.6" fill="#ff3535"/>
<rect x="516.40" y="567.9" width="2.1" height="1.7" fill="#ff3535"/>
<rect x="518.10" y="567.7" width="2.1" height="1.9" fill="#ff3535"/>
<rect x="519.80" y="568.0" width="2.1" height="1.6" fill="#ff3535"/>
<rect x="521.50" y="567.0" width="2.1" height="2.6" fill="#ff3535"/>
<rect x="523.20" y="567.3" width="2.1" height="2.3" fill="#ff3535"/>
<rect x="524.90" y="567.0" width="2.1" height="2.6" fill="#ff3535"/>
<rect x="526.60" y="567.1" width="2.1" height="2.5" fill="#2fa92f"/>
<rect x="528.30" y="568.0" width="2.1" height="1.6" fill="#2fa92f"/>
<rect x="530.00" y="568.0" width="2.1" height="1.6" fill="#2fa92f"/>
<rect x="531.70" y="566.9" width="2.1" height="2.7" fill="#ff3535"/>
<rect x="533.40" y="567.0" width="2.1" height="2.6" fill="#2fa92f"/>
<rect x="535.10" y="557.8" width="2.1" height="11.8" fill="#2fa92f"/>
<rect x="536.80" y="558.4" width="2.1" height="11.2" fill="#2fa92f"/>
<rect x="538.50" y="552.9" width="2.1" height="16.7" fill="#2fa92f"/>
<rect x="540.20" y="563.2" width="2.1" height="6.4" fill="#ff3535"/>
<rect x="541.90" y="563.1" width="2.1" height="6.5" fill="#ff3535"/>
<rect x="543.60" y="567.7" width="2.1" height="1.9" fill="#ff3535"/>
<rect x="545.30" y="566.9" width="2.1" height="2.7" fill="#ff3535"/>
<rect x="547.00" y="568.0" width="2.1" height="1.6" fill="#2fa92f"/>
<rect x="548.70" y="568.0" width="2.1" height="1.6" fill="#2fa92f"/>
<rect x="550.40" y="567.8" width="2.1" height="1.8" fill="#ff3535"/>
<rect x="552.10" y="568.0" width="2.1" height="1.6" fill="#ff3535"/>
<rect x="553.80" y="567.5" width="2.1" height="2.1" fill="#2fa92f"/>
<rect x="555.50" y="567.1" width="2.1" height="2.5" fill="#2fa92f"/>
<rect x="557.20" y="566.8" width="2.1" height="2.8" fill="#ff3535"/>
<rect x="558.90" y="567.6" width="2.1" height="2.0" fill="#ff3535"/>
<rect x="560.60" y="567.9" width="2.1" height="1.7" fill="#ff3535"/>
<rect x="562.30" y="507.9" width="2.1" height="61.7" fill="#ff3535"/>
<rect x="564.00" y="560.0" width="2.1" height="9.6" fill="#2fa92f"/>
<rect x="565.70" y="565.8" width="2.1" height="3.8" fill="#ff3535"/>
<rect x="567.40" y="565.9" width="2.1" height="3.7" fill="#ff3535"/>
<rect x="569.10" y="557.8" width="2.1" height="11.8" fill="#2fa92f"/>
<rect x="570.80" y="557.8" width="2.1" height="11.8" fill="#2fa92f"/>
<rect x="572.50" y="564.2" width="2.1" height="5.4" fill="#ff3535"/>
<rect x="574.20" y="564.3" width="2.1" height="5.3" fill="#ff3535"/>
<rect x="575.90" y="564.4" width="2.1" height="5.2" fill="#2fa92f"/>
<rect x="577.60" y="565.6" width="2.1" height="4.0" fill="#2fa92f"/>
<rect x="579.30" y="568.0" width="2.1" height="1.6" fill="#ff3535"/>
<rect x="581.00" y="567.1" width="2.1" height="2.5" fill="#ff3535"/>
<rect x="582.70" y="566.1" width="2.1" height="3.5" fill="#ff3535"/>
<rect x="584.40" y="567.3" width="2.1" height="2.3" fill="#ff3535"/>
<rect x="586.10" y="566.1" width="2.1" height="3.5" fill="#ff3535"/>
<rect x="587.80" y="566.3" width="2.1" height="3.3" fill="#ff3535"/>
<rect x="589.50" y="566.4" width="2.1" height="3.2" fill="#ff3535"/>
<rect x="591.20" y="564.4" width="2.1" height="5.2" fill="#2fa92f"/>
<rect x="592.90" y="563.5" width="2.1" height="6.1" fill="#2fa92f"/>
<rect x="594.60" y="563.1" width="2.1" height="6.5" fill="#2fa92f"/>
<rect x="596.30" y="567.1" width="2.1" height="2.5" fill="#ff3535"/>
<rect x="598.00" y="566.4" width="2.1" height="3.2" fill="#ff3535"/>
<rect x="599.70" y="566.5" width="2.1" height="3.1" fill="#ff3535"/>
<rect x="601.40" y="568.0" width="2.1" height="1.6" fill="#2fa92f"/>
<rect x="603.10" y="568.0" width="2.1" height="1.6" fill="#2fa92f"/>
<rect x="604.80" y="563.4" width="2.1" height="6.2" fill="#2fa92f"/>
<rect x="606.50" y="562.2" width="2.1" height="7.4" fill="#2fa92f"/>
<rect x="608.20" y="561.9" width="2.1" height="7.7" fill="#ff3535"/>
<rect x="609.90" y="562.3" width="2.1" height="7.3" fill="#2fa92f"/>
<rect x="611.60" y="567.6" width="2.1" height="2.0" fill="#2fa92f"/>
<rect x="613.30" y="567.6" width="2.1" height="2.0" fill="#2fa92f"/>
<rect x="615.00" y="567.5" width="2.1" height="2.1" fill="#ff3535"/>
<rect x="616.70" y="561.3" width="2.1" height="8.3" fill="#2fa92f"/>
<rect x="618.40" y="560.5" width="2.1" height="9.1" fill="#2fa92f"/>
<rect x="620.10" y="567.1" width="2.1" height="2.5" fill="#ff3535"/>
<rect x="621.80" y="563.3" width="2.1" height="6.3" fill="#ff3535"/>
<rect x="623.50" y="563.6" width="2.1" height="6.0" fill="#ff3535"/>
<rect x="625.20" y="566.6" width="2.1" height="3.0" fill="#ff3535"/>
<rect x="626.90" y="565.9" width="2.1" height="3.7" fill="#ff3535"/>
<rect x="628.60" y="565.8" width="2.1" height="3.8" fill="#ff3535"/>
<rect x="630.30" y="567.8" width="2.1" height="1.8" fill="#2fa92f"/>
<rect x="632.00" y="565.3" width="2.1" height="4.3" fill="#ff3535"/>
<rect x="633.70" y="565.3" width="2.1" height="4.3" fill="#ff3535"/>
<rect x="635.40" y="567.3" width="2.1" height="2.3" fill="#ff3535"/>
<rect x="637.10" y="566.7" width="2.1" height="2.9" fill="#ff3535"/>
<rect x="638.80" y="566.5" width="2.1" height="3.1" fill="#2fa92f"/>
<rect x="640.50" y="567.5" width="2.1" height="2.1" fill="#2fa92f"/>
<rect x="642.20" y="566.7" width="2.1" height="2.9" fill="#2fa92f"/>
<rect x="643.90" y="566.5" width="2.1" height="3.1" fill="#2fa92f"/>
<rect x="645.60" y="567.3" width="2.1" height="2.3" fill="#ff3535"/>
<rect x="647.30" y="567.0" width="2.1" height="2.6" fill="#ff3535"/>
<rect x="649.00" y="567.9" width="2.1" height="1.7" fill="#ff3535"/>
<rect x="650.70" y="568.0" width="2.1" height="1.6" fill="#2fa92f"/>
<rect x="652.40" y="567.7" width="2.1" height="1.9" fill="#2fa92f"/>
<rect x="654.10" y="568.0" width="2.1" height="1.6" fill="#ff3535"/>
<rect x="655.80" y="568.0" width="2.1" height="1.6" fill="#2fa92f"/>
<rect x="657.50" y="566.0" width="2.1" height="3.6" fill="#ff3535"/>
<rect x="659.20" y="566.0" width="2.1" height="3.6" fill="#ff3535"/>
<rect x="660.90" y="568.0" width="2.1" height="1.6" fill="#ff3535"/>
<rect x="662.60" y="568.0" width="2.1" height="1.6" fill="#ff3535"/>
<rect x="664.30" y="565.5" width="2.1" height="4.1" fill="#2fa92f"/>
<rect x="666.00" y="565.9" width="2.1" height="3.7" fill="#2fa92f"/>
<rect x="667.70" y="565.2" width="2.1" height="4.4" fill="#2fa92f"/>
<rect x="669.40" y="562.9" width="2.1" height="6.7" fill="#2fa92f"/>
<rect x="671.10" y="561.7" width="2.1" height="7.9" fill="#2fa92f"/>
<rect x="672.80" y="562.8" width="2.1" height="6.8" fill="#2fa92f"/>
<rect x="674.50" y="562.2" width="2.1" height="7.4" fill="#2fa92f"/>
<rect x="676.20" y="556.3" width="2.1" height="13.3" fill="#2fa92f"/>
<rect x="677.90" y="560.5" width="2.1" height="9.1" fill="#ff3535"/>
<rect x="679.60" y="561.9" width="2.1" height="7.7" fill="#ff3535"/>
<rect x="681.30" y="563.8" width="2.1" height="5.8" fill="#ff3535"/>
<rect x="683.00" y="565.5" width="2.1" height="4.1" fill="#ff3535"/>
<rect x="684.70" y="565.4" width="2.1" height="4.2" fill="#ff3535"/>
<rect x="686.40" y="567.3" width="2.1" height="2.3" fill="#2fa92f"/>
<rect x="688.10" y="566.5" width="2.1" height="3.1" fill="#2fa92f"/>
<rect x="689.80" y="560.1" width="2.1" height="9.5" fill="#2fa92f"/>
<rect x="691.50" y="567.5" width="2.1" height="2.1" fill="#ff3535"/>
<rect x="693.20" y="568.0" width="2.1" height="1.6" fill="#ff3535"/>
<rect x="694.90" y="568.0" width="2.1" height="1.6" fill="#2fa92f"/>
<rect x="696.60" y="567.6" width="2.1" height="2.0" fill="#ff3535"/>
<rect x="698.30" y="567.6" width="2.1" height="2.0" fill="#2fa92f"/>
<rect x="700.00" y="568.0" width="2.1" height="1.6" fill="#ff3535"/>
<rect x="701.70" y="566.8" width="2.1" height="2.8" fill="#ff3535"/>
<rect x="703.40" y="567.7" width="2.1" height="1.9" fill="#2fa92f"/>
<rect x="705.10" y="567.0" width="2.1" height="2.6" fill="#ff3535"/>
<rect x="706.80" y="568.0" width="2.1" height="1.6" fill="#ff3535"/>
<rect x="708.50" y="568.0" width="2.1" height="1.6" fill="#ff3535"/>
<rect x="710.20" y="568.0" width="2.1" height="1.6" fill="#2fa92f"/>
<rect x="711.90" y="567.4" width="2.1" height="2.2" fill="#ff3535"/>
<rect x="713.60" y="566.6" width="2.1" height="3.0" fill="#ff3535"/></g>
<path d="M183.5 27V570" stroke="#103a52" stroke-width="1" stroke-dasharray="3,3" shape-rendering="crispEdges"/>
<g font-family="'Liberation Sans', Arial, sans-serif" font-size="11px"><text x="3.5" y="22" fill="#4a4a4a">ONXEO</text><text x="73.7" y="22" fill="#4a4a4a">VARIATION PERIODE: +92.13%</text><text x="675.8" y="22" fill="#4a4a4a" letter-spacing="0.18">2 ANS - JOUR</text><text x="24.4" y="41" fill="#5e5e5e">COURS</text><text x="89.3" y="41" fill="#4a4a4a">O: 4.07</text><text x="145.8" y="41" fill="#4a4a4a">H: 4.07</text><text x="200.8" y="41" fill="#4a4a4a">B: 3.87</text><text x="254.9" y="41" fill="#4a4a4a">C: 3.9</text><text x="286.8" y="41" fill="#f01818">-2.99%</text><text x="751" y="36" fill="#4a4a4a">6.00</text><text x="751" y="80" fill="#4a4a4a">5.60</text><text x="751" y="125" fill="#4a4a4a">5.20</text><text x="751" y="169" fill="#4a4a4a">4.80</text><text x="751" y="213" fill="#4a4a4a">4.40</text><text x="751" y="258" fill="#4a4a4a">4.00</text><text x="751" y="302" fill="#4a4a4a">3.60</text><text x="751" y="346" fill="#4a4a4a">3.20</text><text x="751" y="390" fill="#4a4a4a">2.80</text><text x="751" y="435" fill="#4a4a4a">2.40</text><text x="751" y="479" fill="#4a4a4a">2.000</text><text x="56.2" y="515" fill="#6e6e6e">VOLUME</text><text x="107.3" y="515" fill="#4a4a4a">69</text><text x="750.8" y="525" fill="#4a4a4a">2 000</text><text x="71.3" y="584" fill="#4a4a4a">08/2015</text><text x="234.3" y="584" fill="#4a4a4a">01/2016</text><text x="316.3" y="584" fill="#4a4a4a">03/2016</text><text x="397.3" y="584" fill="#4a4a4a">05/2016</text><text x="479.3" y="584" fill="#4a4a4a">08/2016</text><text x="561.3" y="584" fill="#4a4a4a">10/2016</text><text x="642.3" y="584" fill="#4a4a4a">12/2016</text></g>
<circle cx="10.6" cy="37.0" r="3.5" fill="none" stroke="#b0adb6" stroke-width="1.5"/><rect x="9.65" y="31.15" width="1.9" height="1.9" fill="#b0adb6" transform="rotate(0 10.6 37.0)"/><rect x="9.65" y="31.15" width="1.9" height="1.9" fill="#b0adb6" transform="rotate(45 10.6 37.0)"/><rect x="9.65" y="31.15" width="1.9" height="1.9" fill="#b0adb6" transform="rotate(90 10.6 37.0)"/><rect x="9.65" y="31.15" width="1.9" height="1.9" fill="#b0adb6" transform="rotate(135 10.6 37.0)"/><rect x="9.65" y="31.15" width="1.9" height="1.9" fill="#b0adb6" transform="rotate(180 10.6 37.0)"/><rect x="9.65" y="31.15" width="1.9" height="1.9" fill="#b0adb6" transform="rotate(225 10.6 37.0)"/><rect x="9.65" y="31.15" width="1.9" height="1.9" fill="#b0adb6" transform="rotate(270 10.6 37.0)"/><rect x="9.65" y="31.15" width="1.9" height="1.9" fill="#b0adb6" transform="rotate(315 10.6 37.0)"/>
<circle cx="38.9" cy="513" r="4.6" fill="none" stroke="#b5b1bd" stroke-width="2.0"/><rect x="37.70" y="505.40" width="2.4" height="2.4" fill="#b5b1bd" transform="rotate(0 38.9 513)"/><rect x="37.70" y="505.40" width="2.4" height="2.4" fill="#b5b1bd" transform="rotate(45 38.9 513)"/><rect x="37.70" y="505.40" width="2.4" height="2.4" fill="#b5b1bd" transform="rotate(90 38.9 513)"/><rect x="37.70" y="505.40" width="2.4" height="2.4" fill="#b5b1bd" transform="rotate(135 38.9 513)"/><rect x="37.70" y="505.40" width="2.4" height="2.4" fill="#b5b1bd" transform="rotate(180 38.9 513)"/><rect x="37.70" y="505.40" width="2.4" height="2.4" fill="#b5b1bd" transform="rotate(225 38.9 513)"/><rect x="37.70" y="505.40" width="2.4" height="2.4" fill="#b5b1bd" transform="rotate(270 38.9 513)"/><rect x="37.70" y="505.40" width="2.4" height="2.4" fill="#b5b1bd" transform="rotate(315 38.9 513)"/>
<path d="M8.5 507.4L20.2 519.0M20.2 507.4L8.5 519.0" stroke="#bcb7c2" stroke-width="4.4"/>
<g font-family="'Liberation Sans', Arial, sans-serif" font-size="11px"><rect x="149" y="10" width="68" height="16" fill="#113a52"/><text x="157.6" y="21.5" fill="#fff" font-weight="bold">13/11/2015</text><rect x="149" y="570" width="68" height="20" fill="#113a52"/><text x="158" y="584" fill="#fff" font-weight="bold">13/11/2015</text><rect x="746" y="125" width="45" height="28" fill="#113a52"/><text x="754.2" y="135" fill="#fff" font-weight="bold">5.05</text><text x="752.5" y="149" fill="#fff" font-weight="bold">+92.1%</text><rect x="748" y="400" width="43" height="15" fill="#3062f4"/><text x="751.2" y="411" fill="#fff" font-weight="bold">2.63</text><text x="751" y="569.3" fill="#4a4a4a">0 000</text><rect x="748" y="553" width="43" height="15" fill="#00a300"/><text x="751.7" y="564" fill="#fff" font-weight="bold">136.0</text></g></svg>
</body></html>
